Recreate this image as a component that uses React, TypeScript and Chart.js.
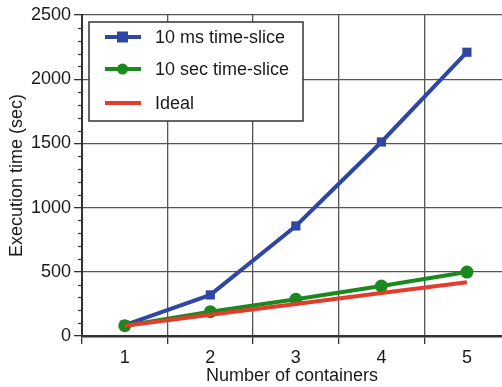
import React, { useEffect, useRef } from "react";
import { Chart, registerables } from "chart.js";

Chart.register(...registerables);

const categories = [1, 2, 3, 4, 5];
const msSlice = [85, 320, 857, 1511, 2210];
const secSlice = [80, 189, 286, 389, 498];
const ideal = [80, 165, 250, 335, 418];
const seriesLabels = ["10 ms time-slice", "10 sec time-slice", "Ideal"];
const xTickValues = [0.5, 1, 1.5, 2, 2.5, 3, 3.5, 4, 4.5, 5];
const yTicks = [0, 500, 1000, 1500, 2000, 2500];
const yMinorStep = 100;

const FONT = "'Liberation Sans', Arial, Helvetica, sans-serif";
const BLUE = "#2f46a3";
const GREEN = "#1b891f";
const RED = "#e33b2c";
const GRID = "#555555";
const AXIS = "#333333";
const TEXT = "#1a1a1a";

const minorTicksPlugin = {
  id: "minorTicks",
  afterDraw(chart: any) {
    const y = chart.scales.y;
    const ctx = chart.ctx;
    const left = chart.chartArea.left;
    ctx.save();
    ctx.strokeStyle = AXIS;
    ctx.lineWidth = 1.2;
    for (let v = yTicks[0]; v <= yTicks[yTicks.length - 1]; v += yMinorStep) {
      if (yTicks.includes(v)) continue;
      const py = Math.round(y.getPixelForValue(v)) + 0.5;
      ctx.beginPath();
      ctx.moveTo(left - 4, py);
      ctx.lineTo(left, py);
      ctx.stroke();
    }
    ctx.restore();
  },
};

const boxLegendPlugin = {
  id: "boxLegend",
  afterDraw(chart: any) {
    const ctx = chart.ctx;
    const { left, top } = chart.chartArea;
    const bx = left + 7;
    const by = top + 7;
    const bw = 214;
    const bh = 99;
    ctx.save();
    ctx.fillStyle = "#ffffff";
    ctx.fillRect(bx, by, bw, bh);
    ctx.strokeStyle = AXIS;
    ctx.lineWidth = 1.5;
    ctx.strokeRect(bx, by, bw, bh);
    const rows = [15, 47, 81];
    chart.data.datasets.forEach((ds: any, i: number) => {
      const cy = by + rows[i];
      ctx.strokeStyle = ds.borderColor;
      ctx.lineWidth = ds.borderWidth;
      ctx.beginPath();
      ctx.moveTo(bx + 16, cy);
      ctx.lineTo(bx + 52, cy);
      ctx.stroke();
      const mx = bx + 33.5;
      ctx.fillStyle = ds.backgroundColor;
      if (ds.pointRadius > 0) {
        const r = 5.5;
        if (ds.pointStyle === "rect") {
          ctx.fillRect(mx - r, cy - r, 2 * r, 2 * r);
        } else {
          ctx.beginPath();
          ctx.arc(mx, cy, r, 0, Math.PI * 2);
          ctx.fill();
        }
      }
      ctx.fillStyle = TEXT;
      ctx.font = `18px ${FONT}`;
      ctx.textBaseline = "middle";
      ctx.textAlign = "left";
      ctx.fillText(ds.label, bx + 66, cy + 1);
    });
    ctx.restore();
  },
};

export default function App() {
  const ref = useRef<HTMLCanvasElement | null>(null);
  useEffect(() => {
    if (!ref.current) return;
    const toPts = (arr: number[]) => categories.map((c, i) => ({ x: c, y: arr[i] }));
    const chart = new Chart(ref.current, {
      type: "line",
      data: {
        datasets: [
          {
            label: seriesLabels[0],
            data: toPts(msSlice),
            borderColor: BLUE,
            backgroundColor: BLUE,
            borderWidth: 4,
            pointStyle: "rect",
            pointRadius: 6.5,
            pointBorderWidth: 0,
            order: 3,
          },
          {
            label: seriesLabels[1],
            data: toPts(secSlice),
            borderColor: GREEN,
            backgroundColor: GREEN,
            borderWidth: 4,
            pointStyle: "circle",
            pointRadius: 6.5,
            pointBorderWidth: 0,
            order: 2,
          },
          {
            label: seriesLabels[2],
            data: toPts(ideal),
            borderColor: RED,
            backgroundColor: RED,
            borderWidth: 4,
            pointRadius: 0,
            order: 1,
          },
        ] as any,
      },
      options: {
        animation: false,
        responsive: false,
        layout: { autoPadding: false, padding: { top: 15, right: 0, left: 0, bottom: 0 } },
        plugins: {
          legend: { display: false },
          tooltip: { enabled: false },
        },
        scales: {
          x: {
            type: "linear",
            min: 0.5,
            max: 5.41,
            afterBuildTicks: (scale: any) => {
              scale.ticks = xTickValues.map((v) => ({ value: v }));
            },
            afterFit: (scale: any) => {
              scale.height = 51;
              scale.paddingLeft = 0;
              scale.paddingRight = 0;
            },
            grid: {
              color: (c: any) => (c.tick && c.tick.value % 1 === 0 ? "rgba(0,0,0,0)" : GRID),
              tickColor: (c: any) => (c.tick && c.tick.value % 1 === 0 ? "rgba(0,0,0,0)" : AXIS),
              lineWidth: 1.3,
              tickLength: 8,
              tickWidth: 1.3,
            },
            border: { display: true, color: AXIS, width: 2.5 },
            ticks: {
              autoSkip: false,
              maxRotation: 0,
              padding: 3,
              color: TEXT,
              font: { family: FONT, size: 18 },
              callback: (v: any) => (Number(v) % 1 === 0 ? String(v) : ""),
            },
            title: {
              display: true,
              text: "Number of containers",
              color: TEXT,
              font: { family: FONT, size: 18 },
              padding: { top: 3, bottom: 0 },
            },
          },
          y: {
            type: "linear",
            min: yTicks[0],
            max: yTicks[yTicks.length - 1],
            afterBuildTicks: (scale: any) => {
              scale.ticks = yTicks.map((v) => ({ value: v }));
            },
            afterFit: (scale: any) => {
              scale.width = 82;
            },
            grid: {
              color: GRID,
              lineWidth: 1.3,
              tickLength: 8,
              tickColor: AXIS,
              tickWidth: 1.3,
            },
            border: { display: true, color: AXIS, width: 2 },
            ticks: {
              padding: 3,
              color: TEXT,
              font: { family: FONT, size: 18 },
              callback: (v: any) => String(v),
            },
            title: {
              display: true,
              text: "Execution time (sec)",
              color: TEXT,
              font: { family: FONT, size: 18 },
              padding: { top: 6, bottom: 0 },
            },
          },
        },
      },
      plugins: [minorTicksPlugin, boxLegendPlugin],
    });
    return () => chart.destroy();
  }, []);
  return (
    <div style={{ position: "absolute", left: 0, top: 0, width: 502, height: 387, background: "#fff" }}>
      <canvas ref={ref} width={502} height={387} style={{ display: "block" }} />
    </div>
  );
}
